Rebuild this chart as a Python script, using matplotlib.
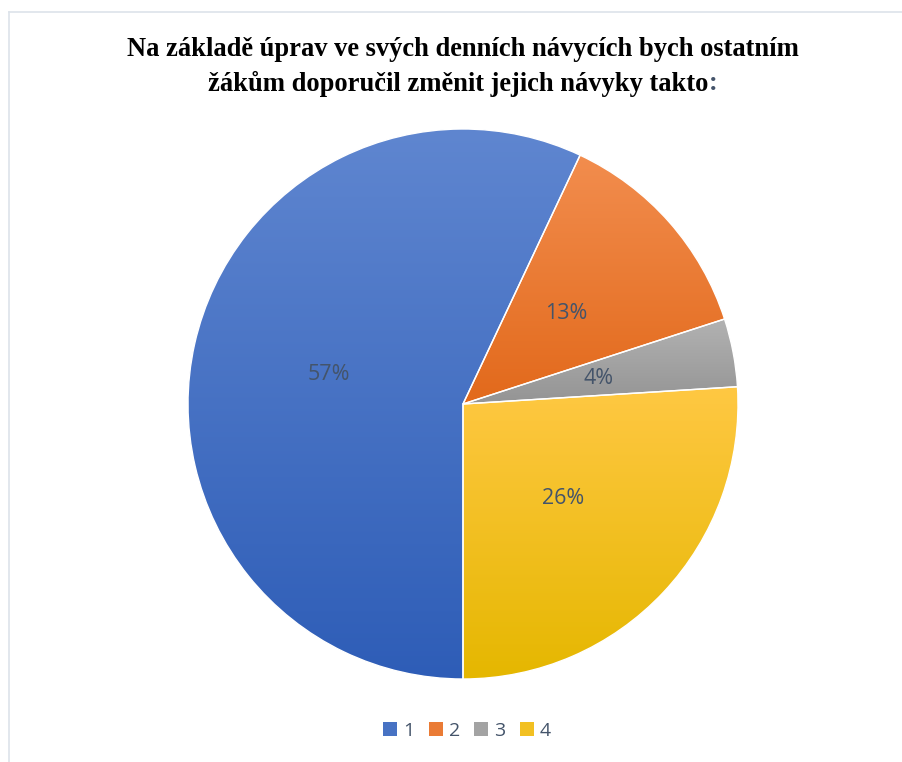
import numpy as np
import matplotlib
matplotlib.use('Agg')
import matplotlib.pyplot as plt
from matplotlib.colors import LinearSegmentedColormap, to_rgb
from matplotlib.lines import Line2D
from matplotlib.patches import Patch

# Survey answers: share of pupils per recommended option
categories = ['1', '2', '3', '4']
shares = [57, 13, 4, 26]

# light (top) and dark (bottom) shade of every slice
top_colors = ['#5f86d0', '#f28d4e', '#b2b2b2', '#ffc843']
bottom_colors = ['#2e5db7', '#e2691b', '#949494', '#e5b700']

title_line1 = 'Na základě úprav ve svých denních návycích bych ostatním'
title_line2 = 'žákům doporučil změnit jejich návyky takto'
label_color = '#44546a'

W, H = 902, 762
fig = plt.figure(figsize=(W / 100, H / 100), dpi=100)
fig.patch.set_facecolor('white')

# faint frame lines at the top and left edge
fig.add_artist(Line2D([9 / W, 1], [1 - 12 / H, 1 - 12 / H], color='#dde3ea', lw=1.2))
fig.add_artist(Line2D([9 / W, 9 / W], [0, 1 - 12 / H], color='#dde3ea', lw=1.2))

cx, cy, r = 463, 404, 275
ax = fig.add_axes([(cx - r) / W, (H - cy - r) / H, 2 * r / W, 2 * r / H])
ax.set_xlim(-1, 1)
ax.set_ylim(-1, 1)
ax.set_aspect('equal')
ax.axis('off')

wedges, texts, autotexts = ax.pie(
    shares, startangle=270, counterclock=False, radius=1,
    autopct='%1.0f%%', pctdistance=0.5,
    wedgeprops=dict(edgecolor='white', linewidth=1),
    textprops=dict(color=label_color, fontsize=15.5, family='Open Sans'))

# vertical gradient inside each slice
for w, c_top, c_bot in zip(wedges, top_colors, bottom_colors):
    w.set_facecolor('none')
    verts = w.get_path().vertices
    x0, x1 = verts[:, 0].min(), verts[:, 0].max()
    y0, y1 = verts[:, 1].min(), verts[:, 1].max()
    cmap = LinearSegmentedColormap.from_list('g', [c_bot, c_top])
    grad = np.linspace(0, 1, 256).reshape(-1, 1)
    im = ax.imshow(grad, cmap=cmap, origin='lower', aspect='auto',
                   extent=[x0, x1, y0, y1], zorder=0.5, interpolation='bilinear')
    im.set_clip_path(w)
ax.set_xlim(-1, 1)
ax.set_ylim(-1, 1)
for t in autotexts:
    t.set_zorder(3)

# two-line bold title; the closing colon is drawn in the label colour
title_kw = dict(family='Liberation Serif', fontweight='bold', fontsize=19.1)
fig.text(cx / W, 1 - 49 / H, title_line1, ha='center', va='center', **title_kw)
probe = fig.text(cx / W, 1 - 84 / H, title_line2 + ':', ha='center', va='center',
                 alpha=0, **title_kw)
fig.canvas.draw()
bb = probe.get_window_extent()
main = fig.text(bb.x0 / W, 1 - 84 / H, title_line2, ha='left', va='center', **title_kw)
fig.canvas.draw()
bb2 = main.get_window_extent()
fig.text(bb2.x1 / W, 1 - 84 / H, ':', ha='left', va='center', color=label_color, **title_kw)

handles = [Patch(facecolor=0.5 * np.array(to_rgb(a)) + 0.5 * np.array(to_rgb(b)),
                 edgecolor='none')
           for a, b in zip(top_colors, bottom_colors)]
fig.legend(handles, categories, loc='center', bbox_to_anchor=(467 / W, 1 - 731 / H),
           ncol=4, frameon=False, handlelength=0.72, handleheight=0.72,
           handletextpad=0.3, columnspacing=0.75,
           prop=dict(family='Open Sans', size=14), labelcolor=label_color)

fig.savefig('out.png', dpi=100, facecolor='white')
plt.close(fig)
